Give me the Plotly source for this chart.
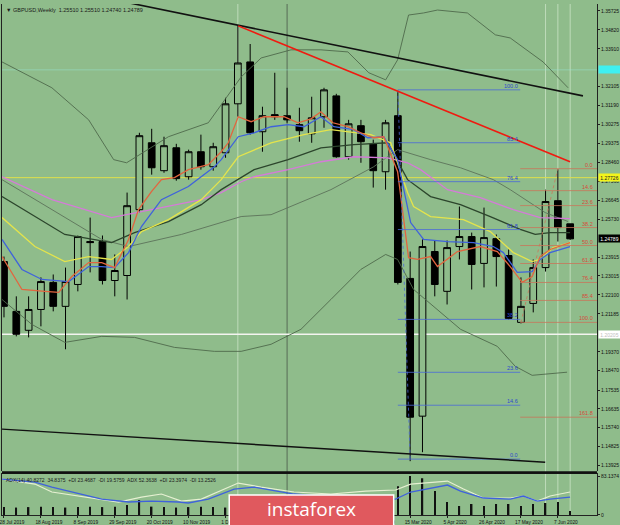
import plotly.graph_objects as go
import pandas as pd

# ---------------- data ----------------
start = pd.Timestamp("2019-07-28")
WEEK_MS = 7 * 24 * 3600 * 1000

opens = [1.2370,1.2131,1.2040,1.2140,1.2270,1.2155,1.2260,1.2466,1.2466,1.2279,
         1.2303,1.2619,1.2940,1.2806,1.2916,1.2777,1.2897,1.2825,1.2892,1.3127,
         1.3328,1.2993,1.3075,1.3070,1.3027,1.2983,1.3065,1.3165,1.2873,1.3022,
         1.2935,1.2801,1.3070,1.2289,1.1628,1.2418,1.2227,1.2442,1.2490,1.2361,
         1.2480,1.2399,1.2078,1.2169,1.2341,1.2662,1.25510]
highs = [1.2394,1.2203,1.2203,1.2294,1.2308,1.2341,1.2495,1.2581,1.2495,1.2404,
         1.2701,1.2988,1.3007,1.2969,1.2935,1.2907,1.2979,1.2940,1.3156,1.3505,
         1.3414,1.3113,1.3276,1.3204,1.3108,1.3161,1.3204,1.3175,1.3050,1.3050,
         1.2955,1.3050,1.3185,1.2418,1.2476,1.2471,1.2471,1.2634,1.2509,1.2629,
         1.2500,1.2428,1.2294,1.2380,1.2715,1.2813,1.25510]
lows = [1.2102,1.2011,1.2006,1.2059,1.2131,1.1949,1.2227,1.2318,1.2260,1.2203,
        1.2188,1.2605,1.2787,1.2796,1.2758,1.2763,1.2811,1.2806,1.2868,1.3065,
        1.2979,1.2897,1.3050,1.3036,1.2945,1.2940,1.3012,1.2868,1.2859,1.2844,
        1.2725,1.2715,1.2260,1.1412,1.1455,1.2203,1.2164,1.2380,1.2236,1.2246,
        1.2250,1.2092,1.2073,1.2126,1.2322,1.2466,1.24740]
closes = [1.2155,1.2021,1.2140,1.2274,1.2155,1.2274,1.2490,1.2461,1.2279,1.2327,
          1.2638,1.2974,1.2820,1.2926,1.2768,1.2897,1.2825,1.2921,1.3127,1.3323,
          1.2988,1.3070,1.3065,1.3050,1.2998,1.3060,1.3194,1.2873,1.3031,1.2945,
          1.2806,1.3036,1.2270,1.1623,1.2442,1.2260,1.2437,1.2490,1.2356,1.2485,
          1.2394,1.2097,1.2155,1.2341,1.2658,1.2533,1.24789]

# moving-average style lines: (week offset, price)
red_wk = [-0.16,1.46,3.32,4.45,5.51,6.88,7.94,8.99,10.12,10.93,11.98,12.79,13.85,14.98,16.6,17.65,18.22,19.03,20.08,21.13,22.75,23.89,24.94,25.75,26.72,27.94,28.99,30.04,30.85,31.98,32.87,33.6,34.66,35.22,36.84,38.7,40.08,41.13,42.11,42.91,43.56,44.37,45.99]
red_px = [1.2394,1.2236,1.2227,1.2222,1.2298,1.2365,1.2365,1.2341,1.2476,1.2619,1.2706,1.2763,1.2773,1.2811,1.2835,1.2897,1.2940,1.3065,1.3041,1.3065,1.3065,1.3036,1.3055,1.3089,1.3036,1.3017,1.2988,1.2964,1.2969,1.2801,1.2389,1.2380,1.2394,1.2346,1.2418,1.2442,1.2418,1.2346,1.2270,1.2298,1.2394,1.2428,1.2461]

blue_wk = [-0.16,1.46,3.08,5.26,6.88,7.94,8.99,10.12,11.17,12.79,14.98,17.09,17.65,19.03,20.32,21.7,23.08,24.37,25.75,26.8,28.42,29.55,30.85,31.98,33.04,34.09,36.03,38.14,39.76,40.57,41.7,42.91,43.56,44.37,45.99]
blue_px = [1.2476,1.2332,1.2284,1.2274,1.2346,1.2346,1.2341,1.2413,1.2538,1.2667,1.2730,1.2825,1.2859,1.2969,1.2988,1.3017,1.3027,1.3017,1.3065,1.3017,1.3003,1.2964,1.2969,1.2859,1.2557,1.2476,1.2466,1.2461,1.2442,1.2413,1.2318,1.2322,1.2380,1.2413,1.2442]

yellow_wk = [-0.16,2.51,4.94,6.88,8.74,10.12,11.17,13.36,16.03,17.65,19.03,21.7,24.37,26.56,29.8,31.42,32.79,33.28,34.66,37.33,39.51,41.38,42.91,43.56,44.61,45.99]
yellow_px = [1.2581,1.2442,1.2370,1.2394,1.2380,1.2442,1.2514,1.2571,1.2667,1.2763,1.2873,1.2940,1.2979,1.3003,1.2979,1.2940,1.2701,1.2634,1.2586,1.2571,1.2514,1.2413,1.2370,1.2380,1.2437,1.2461]

dark_wk = [-0.16,4.94,8.74,10.61,13.36,16.03,17.65,20.32,23.08,25.75,28.42,31.17,32.79,34.66,37.09,39.51,41.94,43.16,44.37,45.99]
dark_px = [1.2682,1.2500,1.2461,1.2509,1.2562,1.2643,1.2715,1.2811,1.2859,1.2916,1.2931,1.2940,1.2763,1.2682,1.2643,1.2586,1.2524,1.2500,1.2509,1.2509]

pink_wk = [-0.16,3.89,8.74,11.98,16.03,17.65,19.27,20.32,23.08,25.75,28.42,31.17,32.79,33.85,36.03,38.7,41.38,43.56,45.99]
pink_px = [1.2777,1.2667,1.2581,1.2619,1.2667,1.2701,1.2753,1.2777,1.2811,1.2849,1.2873,1.2868,1.2844,1.2811,1.2715,1.2677,1.2619,1.2581,1.2576]

bb_up_wk = [-0.16,3.89,6.88,8.91,9.96,13.36,16.6,19.27,20.89,23.32,25.75,27.94,29.64,31.01,31.98,32.87,34.09,35.22,37.65,38.95,39.92,41.13,43.8,45.83]
bb_up_px = [1.3328,1.3204,1.3050,1.2859,1.2844,1.2969,1.3036,1.3256,1.3347,1.3386,1.3386,1.3376,1.3276,1.3242,1.3338,1.3553,1.3563,1.3577,1.3563,1.3505,1.3458,1.3443,1.3328,1.3204]

bb_lo_wk = [-0.16,2.27,4.94,7.94,10.61,13.85,17.09,19.27,21.7,24.13,26.56,28.99,31.01,31.98,33.28,37.09,40.08,41.54,42.91,45.75]
bb_lo_px = [1.2188,1.2068,1.1982,1.2011,1.2006,1.1958,1.1939,1.1939,1.1973,1.2045,1.2188,1.2332,1.2404,1.2380,1.2236,1.2045,1.1963,1.1867,1.1824,1.1839]

bb_mid_wk = [-0.16,3.89,7.94,10.12,14.41,19.27,21.7,26.56,30.04,31.98,34.66,37.09,39.76,41.13,42.75,43.97,45.83]
bb_mid_px = [1.2763,1.2619,1.2476,1.2442,1.2500,1.2586,1.2595,1.2715,1.2825,1.2907,1.2859,1.2820,1.2763,1.2715,1.2653,1.2605,1.2562]

# trend lines (week offset, price)
black_top_wk = [10.2, 47.04]
black_top_px = [1.3611, 1.3165]
black_bot_wk = [-0.16, 43.97]
black_bot_px = [1.1566, 1.1407]
red_trend_wk = [19.03, 45.99]
red_trend_px = [1.3501, 1.2849]

# fibonacci levels
fib_blue_lbl = ["100.0", "85.4", "76.4", "61.8", "38.2", "23.6", "14.6", "0.0"]
fib_blue_px = [1.31941, 1.29402, 1.27534, 1.25235, 1.20924, 1.18385, 1.16805, 1.14218]
fib_blue_wk = [32.0, 41.94]
fib_red_lbl = ["0.0", "14.6", "23.6", "38.2", "50.0", "61.8", "76.4", "85.4", "100.0", "161.8"]
fib_red_px = [1.28157, 1.27103, 1.26385, 1.25331, 1.24469, 1.23606, 1.22696, 1.21834, 1.20780, 1.16230]
fib_red_wk = [41.94, 48.3]

# price axis
price_ticks = [1.35725,1.34820,1.33910,1.32105,1.31190,1.30275,1.29375,1.28460,1.27560,
               1.26645,1.25730,1.23915,1.23015,1.22100,1.21185,1.19370,1.18470,1.17535,
               1.16635,1.15740,1.14825,1.13925]
hline_yellow = 1.27726
hline_white = 1.20205
hline_cyan = 1.32899
last_price = 1.24789

# indicator panel
ind_hist = [17,16,17,18,17,16,17,18,17,18,21.5,32,18,17,16,17,18,17,16,25,
            18,17,16,17,18,17,16,17,18,17,18,20,62,84,79,51.5,28,19.3,23.6,19.3,
            23.6,23.6,19.3,23.6,25.8,27.9,8.6]
ind_blue_wk = [-0.16,2.51,3.89,5.26,7.94,10.12,11.98,14.17,14.98,16.6,18.7,20.32,22.27,23.56,26.56,29.39,31.82,33.04,36.03,37.09,38.95,41.13,42.19,43.32,44.37,45.99]
ind_blue = [77.3,70.8,60.1,51.5,34.3,27.9,30.0,27.9,25.8,34.3,55.8,60.1,51.5,45.1,38.6,34.3,34.3,49.4,64.4,51.5,36.5,34.3,40.8,30.0,34.3,38.6]
ind_pale_wk = [-0.16,2.51,3.89,6.56,9.31,11.17,12.79,14.41,16.03,19.03,20.89,23.56,26.56,29.39,31.82,33.04,36.03,37.33,38.95,41.13,42.19,43.32,44.37,45.99]
ind_pale = [77.3,66.5,49.4,38.6,27.9,38.6,45.1,30.0,34.3,68.7,60.1,49.4,45.1,51.5,53.7,66.5,73.0,55.8,36.5,36.5,40.8,30.0,40.8,49.4]

date_labels = ["28 Jul 2019","18 Aug 2019","8 Sep 2019","29 Sep 2019","20 Oct 2019",
               "10 Nov 2019","1 Dec 2019","22 Dec 2019","12 Jan 2020","2 Feb 2020",
               "23 Feb 2020","15 Mar 2020","5 Apr 2020","26 Apr 2020","17 May 2020","7 Jun 2020"]

# ---------------- helpers ----------------
def wk(w):
    return start + pd.Timedelta(days=7 * w)

def wks(lst):
    return [wk(w) for w in lst]

dates = wks(range(len(opens)))
label_dates = wks(range(0, 3 * len(date_labels), 3))

BG = "#8fbc8b"
FONT = "Liberation Sans"

fig = go.Figure()

def line(xw, yv, color, width=1, yaxis="y", dash="solid"):
    fig.add_trace(go.Scatter(x=wks(xw), y=yv, mode="lines", yaxis=yaxis,
                             line=dict(color=color, width=width, dash=dash),
                             hoverinfo="skip", showlegend=False))

# bollinger-like grey lines
line(bb_up_wk, bb_up_px, "#4f6a4c", 0.9)
line(bb_lo_wk, bb_lo_px, "#4f6a4c", 0.9)
line(bb_mid_wk, bb_mid_px, "#5c735a", 0.9)
# moving averages
line(pink_wk, pink_px, "#d57bd8", 1.3)
line(dark_wk, dark_px, "#2c452c", 1.3)
line(yellow_wk, yellow_px, "#e4e44c", 1.3)
line(blue_wk, blue_px, "#3f62dc", 1.3)
line(red_wk, red_px, "#e2653f", 1.3)

# fibonacci (blue)
for lbl, p in zip(fib_blue_lbl, fib_blue_px):
    line(fib_blue_wk, [p, p], "#4a6ad8", 0.8)
line([32.0, 33.0], [fib_blue_px[0], fib_blue_px[-1]], "#4a6ad8", 0.8, dash="dot")
# fibonacci (red)
for lbl, p in zip(fib_red_lbl, fib_red_px):
    line(fib_red_wk, [p, p], "#c8765a", 0.8)
line([42.0, 45.0], [fib_red_px[8], fib_red_px[0]], "#c8765a", 0.8, dash="dot")

# trend lines
line(black_top_wk, black_top_px, "#111111", 1.6)
line(black_bot_wk, black_bot_px, "#111111", 1.4)
line(red_trend_wk, red_trend_px, "#f01a10", 1.6)

# candles
fig.add_trace(go.Candlestick(
    x=dates, open=opens, high=highs, low=lows, close=closes,
    increasing=dict(line=dict(color="#000000", width=1), fillcolor=BG),
    decreasing=dict(line=dict(color="#000000", width=1), fillcolor="#000000"),
    whiskerwidth=0, hoverinfo="skip", showlegend=False))

# indicator
fig.add_trace(go.Bar(x=dates, y=ind_hist, yaxis="y2", marker=dict(color="#111111", line=dict(width=0)),
                     width=0.12 * WEEK_MS, hoverinfo="skip", showlegend=False))
line(ind_pale_wk, ind_pale, "#e6f0d2", 1.2, yaxis="y2")
line(ind_blue_wk, ind_blue, "#3f62dc", 1.3, yaxis="y2")

shapes = []
# vertical markers
for w, col, wdt in [(19, "rgba(230,245,225,0.55)", 1), (23, "rgba(70,80,70,0.75)", 1),
                    (44, "rgba(230,245,225,0.55)", 1), (45, "rgba(230,245,225,0.55)", 1),
                    (46, "rgba(230,245,225,0.55)", 1)]:
    shapes.append(dict(type="line", xref="x", yref="paper", x0=wk(w), x1=wk(w), y0=0, y1=1,
                       line=dict(color=col, width=wdt), layer="below"))
# horizontal lines
shapes.append(dict(type="line", xref="paper", yref="y", x0=0, x1=1, y0=hline_yellow, y1=hline_yellow,
                   line=dict(color="#e0e04a", width=1), layer="below"))
shapes.append(dict(type="line", xref="paper", yref="y", x0=0, x1=1, y0=hline_white, y1=hline_white,
                   line=dict(color="#f4f4f0", width=1.5), layer="below"))
shapes.append(dict(type="line", xref="paper", yref="y", x0=0, x1=1, y0=hline_cyan, y1=hline_cyan,
                   line=dict(color="rgba(150,235,220,0.45)", width=1), layer="below"))
# panel separator
shapes.append(dict(type="line", xref="paper", yref="paper", x0=0, x1=1, y0=0.0830, y1=0.0830,
                   line=dict(color="#101010", width=2.5)))
# instaforex logo box
shapes.append(dict(type="rect", xref="paper", yref="paper", x0=0.3819, x1=0.6583, y0=-0.03, y1=0.0391,
                   fillcolor="#e0595e", line=dict(color="#ffffff", width=1.5), layer="above"))

annotations = []
for lbl, p in zip(fib_blue_lbl, fib_blue_px):
    annotations.append(dict(x=wk(fib_blue_wk[1]), y=p, xref="x", yref="y", text=lbl, showarrow=False,
                            xanchor="right", yanchor="bottom", yshift=-1,
                            font=dict(family=FONT, size=5.5, color="#2c48d0")))
for lbl, p in zip(fib_red_lbl, fib_red_px):
    annotations.append(dict(x=1, y=p, xref="paper", yref="y", text=lbl, showarrow=False,
                            xanchor="right", yanchor="bottom", xshift=-2, yshift=-1,
                            font=dict(family=FONT, size=5.5, color="#d84a3a")))
# axis price boxes
for p, txt, bg, fg in [(hline_cyan, "1.32899", "#3ff0f0", "#3ff0f0"),
                       (hline_yellow, "1.27726", "#f4f41a", "#202020"),
                       (last_price, "1.24789", "#000000", "#ffffff"),
                       (hline_white, "1.20205", "#ffffff", "#c0c0c0")]:
    annotations.append(dict(x=1, y=p, xref="paper", yref="y", text=txt, showarrow=False,
                            xanchor="left", yanchor="middle", xshift=1, width=21, height=7,
                            bgcolor=bg, borderpad=0, font=dict(family=FONT, size=5, color=fg)))
annotations.append(dict(x=0, y=1, xref="paper", yref="paper", text="\u25bc GBPUSD,Weekly  1.25510 1.25510 1.24740 1.24789",
                        showarrow=False, xanchor="left", yanchor="top", xshift=2, yshift=-1,
                        font=dict(family=FONT, size=5.5, color="#1a1a1a")))
annotations.append(dict(x=0, y=0.0801, xref="paper", yref="paper",
                        text="ADX(14) 40.8272  34.8375  +DI 23.4687  -DI 19.5759  ADX 52.3638  +DI 23.3974  -DI 13.2526",
                        showarrow=False, xanchor="left", yanchor="top", xshift=2, yshift=-1,
                        font=dict(family=FONT, size=5, color="#1a1a1a")))
annotations.append(dict(x=0.52, y=0.011, xref="paper", yref="paper", text="instaforex",
                        showarrow=False, xanchor="center", yanchor="middle",
                        font=dict(family="Open Sans", size=19, color="#ffffff")))

fig.update_layout(
    width=620, height=525,
    margin=dict(l=0, r=23, t=4, b=9),
    paper_bgcolor=BG, plot_bgcolor=BG,
    boxgap=0.22,
    showlegend=False,
    shapes=shapes, annotations=annotations,
    xaxis=dict(type="date", anchor="y2",
               range=[wk(-0.162), wk(48.18)],
               rangeslider=dict(visible=False),
               tickvals=label_dates, ticktext=date_labels,
               tickfont=dict(family=FONT, size=4.8, color="#111111"),
               ticks="outside", ticklen=2, tickcolor="#222222",
               ticklabelshift=8, ticklabelstandoff=0, ticklabeloverflow="allow",
               showgrid=False, zeroline=False,
               showline=True, linecolor="#222222", linewidth=1, mirror=True),
    yaxis=dict(domain=[0.0859, 1], range=[1.13643, 1.36060], side="right",
               tickvals=price_ticks, ticktext=["%.5f" % v for v in price_ticks],
               tickfont=dict(family=FONT, size=5, color="#111111"),
               ticks="outside", ticklen=2, tickcolor="#222222",
               showgrid=False, zeroline=False,
               showline=True, linecolor="#222222", linewidth=1, mirror=True),
    yaxis2=dict(domain=[0, 0.0801], range=[0, 88], side="right",
                tickvals=[0, 83.1374], ticktext=["0", "83.1374"],
                tickfont=dict(family=FONT, size=5, color="#111111"),
                ticks="outside", ticklen=2, tickcolor="#222222",
                showgrid=False, zeroline=False,
                showline=True, linecolor="#222222", linewidth=1, mirror=True),
)

fig.write_html("out.html", config={"displayModeBar": False},
               post_script="document.body.style.margin='0px';document.body.style.overflow='hidden';")
